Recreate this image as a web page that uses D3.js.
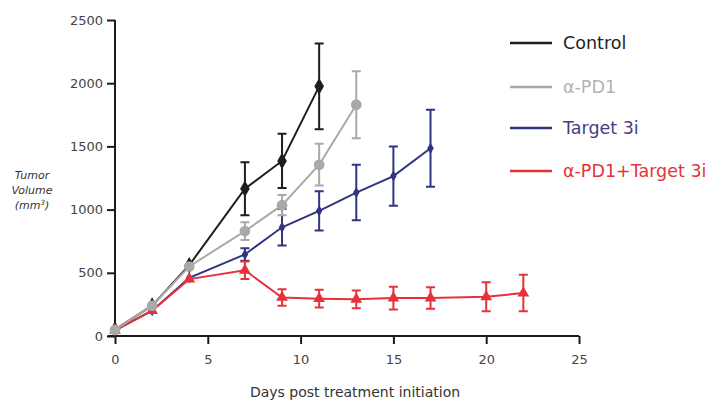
<!DOCTYPE html>
<html><head><meta charset="utf-8">
<script src="https://cdn.jsdelivr.net/npm/d3@7"></script>
<style>body{margin:0;background:#fff}svg{display:block}text{font-family:"DejaVu Sans",sans-serif}</style>
</head><body><svg id="c" width="716" height="405"></svg>
<script>
const seriesNames = ["Control", "α-PD1", "Target 3i", "α-PD1+Target 3i"];
const controlDays = [0, 2, 4, 7, 9, 11];
const controlMean = [50, 240, 560, 1165, 1385, 1975];
const controlErr  = [0, 0, 0, 210, 215, 340];
const pd1Days = [0, 2, 4, 7, 9, 11, 13];
const pd1Mean = [48, 240, 550, 830, 1035, 1355, 1830];
const pd1Err  = [0, 0, 0, 70, 80, 165, 265];
const t3iDays = [0, 2, 4, 7, 9, 11, 13, 15, 17];
const t3iMean = [45, 200, 460, 645, 860, 990, 1135, 1265, 1485];
const t3iErr  = [0, 0, 0, 50, 145, 155, 220, 235, 305];
const comboDays = [0, 2, 4, 7, 9, 11, 13, 15, 17, 20, 22];
const comboMean = [45, 200, 450, 520, 305, 295, 290, 300, 300, 310, 340];
const comboErr  = [0, 0, 0, 70, 65, 70, 70, 90, 85, 115, 145];
const xTicks = [0, 5, 10, 15, 20, 25];
const yTicks = [0, 500, 1000, 1500, 2000, 2500];
const colors = ["#1e1e1e", "#a9a9a9", "#2f3581", "#e5323a"];
const legendColors = ["#222222", "#b3b3b3", "#3d4183", "#e5323a"];

const svg = d3.select("#c");
const x = d3.scaleLinear().domain([0, 25]).range([115, 579]);
const y = d3.scaleLinear().domain([0, 2500]).range([336, 20]);

// axes
const gx = svg.append("g").attr("transform", "translate(0,336)")
  .call(d3.axisBottom(x).tickValues(xTicks).tickFormat(d3.format("d")).tickSize(8).tickSizeOuter(0).tickPadding(11));
const gy = svg.append("g").attr("transform", "translate(115,0)")
  .call(d3.axisLeft(y).tickValues(yTicks).tickFormat(d3.format("d")).tickSize(8).tickSizeOuter(0).tickPadding(4));
[gx, gy].forEach(g => {
  g.select(".domain").attr("stroke", "#1a1a1a").attr("stroke-width", 2);
  g.selectAll(".tick line").attr("stroke", "#1a1a1a").attr("stroke-width", 2);
  g.selectAll(".tick text").attr("fill", "#444").attr("font-size", 13)
   .style("font-family", "'DejaVu Sans',sans-serif");
});
gx.select(".domain").attr("d", "M108,0H579");
gy.select(".domain").attr("d", "M0,20V337");

svg.append("text").attr("x", 355).attr("y", 397).attr("text-anchor", "middle")
  .attr("font-size", 14).attr("fill", "#333").text("Days post treatment initiation");
const yl = svg.append("text").attr("text-anchor", "middle").attr("font-size", 11)
  .attr("font-style", "italic").attr("fill", "#333");
yl.append("tspan").attr("x", 32).attr("y", 179).text("Tumor");
yl.append("tspan").attr("x", 32).attr("y", 194).text("Volume");
const t3 = yl.append("tspan").attr("x", 32).attr("y", 209).text("(mm");
t3.append("tspan").attr("font-size", 7).attr("dy", -4).text("3");
t3.append("tspan").attr("dy", 4).text(")");

const series = [
  {days: controlDays, mean: controlMean, err: controlErr, c: colors[0], m: "diamond", s: 80},
  {days: t3iDays, mean: t3iMean, err: t3iErr, c: colors[2], m: "diamond", s: 36},
  {days: comboDays, mean: comboMean, err: comboErr, c: colors[3], m: "triangle", s: 60},
  {days: pd1Days, mean: pd1Mean, err: pd1Err, c: colors[1], m: "circle", s: 90},
];
const line = d3.line().x(d => x(d[0])).y(d => y(d[1]));
series.forEach(s => {
  const pts = s.days.map((d, i) => [d, s.mean[i], s.err[i]]);
  const g = svg.append("g");
  g.append("path").attr("d", line(pts)).attr("fill", "none").attr("stroke", s.c).attr("stroke-width", 2);
  pts.filter(p => p[2] > 0).forEach(p => {
    const cx = x(p[0]), t = y(p[1] + p[2]), b = y(p[1] - p[2]);
    g.append("path").attr("d", `M${cx},${t}V${b}M${cx-4.5},${t}H${cx+4.5}M${cx-4.5},${b}H${cx+4.5}`)
      .attr("stroke", s.c).attr("stroke-width", 2).attr("fill", "none");
  });
  const sym = s.m === "diamond" ? d3.symbolDiamond : s.m === "triangle" ? d3.symbolTriangle : d3.symbolCircle;
  g.selectAll(".m").data(pts).join("path")
    .attr("transform", p => `translate(${x(p[0])},${y(p[1])})`)
    .attr("d", d3.symbol(sym, s.s)).attr("fill", s.c);
});

// legend
const legY = [43, 87, 128, 171];
seriesNames.forEach((n, i) => {
  svg.append("line").attr("x1", 510).attr("x2", 552).attr("y1", legY[i]).attr("y2", legY[i])
    .attr("stroke", colors[i]).attr("stroke-width", 2.5);
  svg.append("text").attr("x", 563).attr("y", legY[i] + 6).attr("font-size", 17.5)
    .attr("fill", legendColors[i]).text(n);
});
</script></body></html>
